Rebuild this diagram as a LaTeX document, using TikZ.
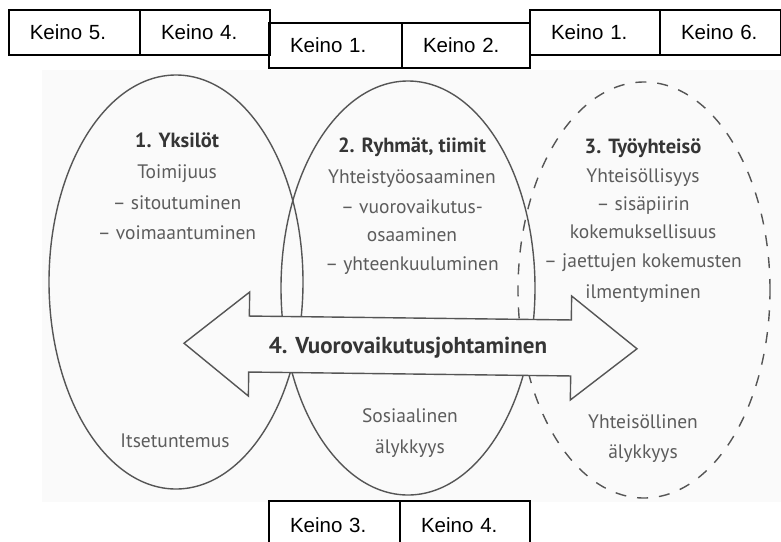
\documentclass[tikz,border=0pt]{standalone}
\usepackage{fontspec}
\setmainfont{Liberation Sans}
\newfontfamily\ellfont{PT Sans}
\definecolor{linegray}{HTML}{555555}
\definecolor{txtgray}{HTML}{5C5C5C}
\definecolor{titlegray}{HTML}{353535}
\definecolor{bggray}{HTML}{FAFAFA}
\begin{document}
\begin{tikzpicture}[x=1pt,y=-1pt,
  keino/.style={draw=black, line width=1.8pt, minimum height=45pt, inner xsep=21pt,
    align=left, font=\fontsize{20.5}{22}\selectfont},
  ell/.style={draw=linegray, line width=1.4pt},
  etxt/.style={font=\ellfont\fontsize{19.5}{20}\selectfont, text=txtgray, inner sep=0pt,
    text height=14pt, text depth=4pt},
  etitle/.style={etxt, font=\ellfont\bfseries\fontsize{20.5}{22}\selectfont, text=titlegray},
  arrowshape/.style={draw=linegray, line width=1.4pt, fill=bggray, line join=miter}
]
\useasboundingbox (0,0) rectangle (781,541);
\fill[bggray] (42,70) rectangle (781,502);

% ellipses
\draw[ell] (176,282) ellipse [x radius=127pt, y radius=207pt];
\draw[ell] (408,288) ellipse [x radius=127pt, y radius=207pt];
\draw[ell, dash pattern=on 11pt off 11pt] (644,290) ellipse [x radius=126pt, y radius=208pt];

% double arrow
\draw[arrowshape, rotate around={-0.7:(410,346)}] (184,346) -- (249,294) -- (249,318) -- (571,318) -- (571,294)
  -- (637,346) -- (571,398) -- (571,374) -- (249,374) -- (249,398) -- cycle;
\node[etitle, font=\ellfont\bfseries\fontsize{23}{24}\selectfont] (vj) at (408,348) {4. Vuorovaikutusjohtaminen};

% ellipse 1 texts
\node[etitle] (t1) at (177,142) {1. Yksilöt};
\node[etxt] (t1a) at (177,173) {Toimijuus};
\node[etxt] (t1b) at (177,204) {– sitoutuminen};
\node[etxt] (t1c) at (177,234) {– voimaantuminen};
\node[etxt] (t1d) at (175,442) {Itsetuntemus};

% ellipse 2 texts
\node[etitle] (t2) at (412,147) {2. Ryhmät, tiimit};
\node[etxt] (t2a) at (412,178) {Yhteistyöosaaminen};
\node[etxt] (t2b) at (412,208) {– vuorovaikutus-};
\node[etxt] (t2c) at (412,236) {osaaminen};
\node[etxt] (t2d) at (412,265) {– yhteenkuuluminen};
\node[etxt] (t2e) at (410,417) {Sosiaalinen};
\node[etxt] (t2f) at (410,448) {älykkyys};

% ellipse 3 texts
\node[etitle] (t3) at (643,148) {3. Työyhteisö};
\node[etxt] (t3a) at (643,177) {Yhteisöllisyys};
\node[etxt] (t3b) at (643,205) {– sisäpiirin};
\node[etxt] (t3c) at (643,233) {kokemuksellisuus};
\node[etxt] (t3d) at (643,262) {– jaettujen kokemusten};
\node[etxt] (t3e) at (643,293) {ilmentyminen};
\node[etxt] (t3f) at (643,423) {Yhteisöllinen};
\node[etxt] (t3g) at (643,453) {älykkyys};

% Keino boxes
\node[keino, text width=89.5pt] (k5) at (74.5,32.5) {Keino 5.};
\node[keino, text width=88pt] (k4a) at (205,32.5) {Keino 4.};
\node[keino, text width=91pt] (k1a) at (335.5,45.5) {Keino 1.};
\node[keino, text width=86pt] (k2) at (466,45.5) {Keino 2.};
\node[keino, text width=88pt] (k1b) at (595,32.5) {Keino 1.};
\node[keino, text width=79pt] (k6) at (720.5,32.5) {Keino 6.};
\node[keino, text width=89pt, minimum height=48pt] (k3) at (334.5,525) {Keino 3.};
\node[keino, text width=88pt, minimum height=48pt] (k4b) at (465,525) {Keino 4.};
\end{tikzpicture}
\end{document}
